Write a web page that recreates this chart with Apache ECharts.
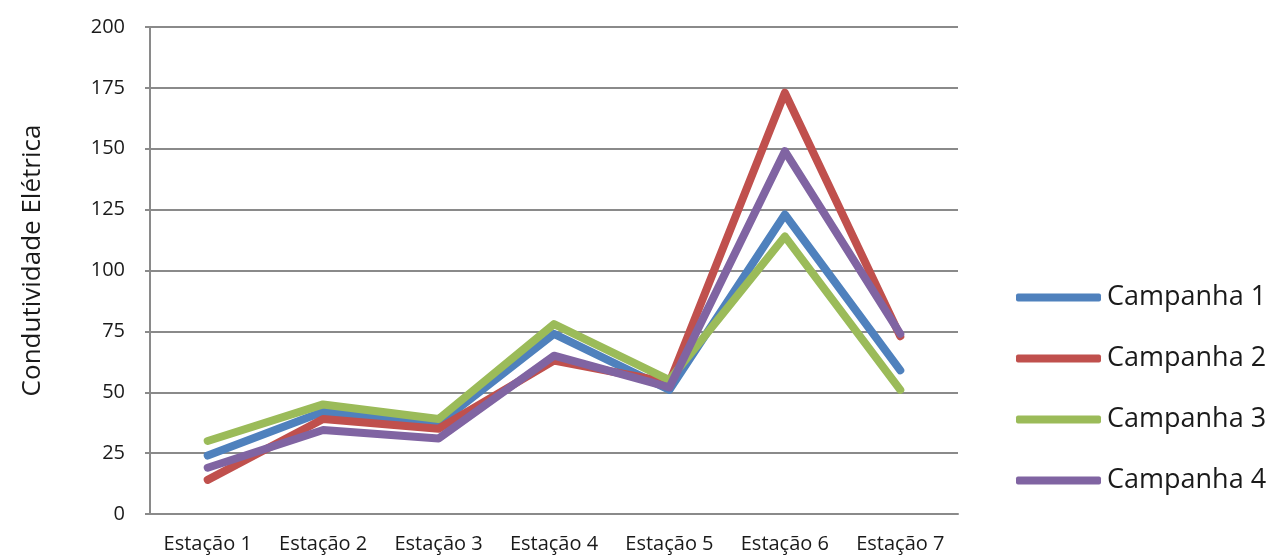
<!DOCTYPE html>
<html>
<head>
<meta charset="utf-8">
<script src="https://cdn.jsdelivr.net/npm/echarts@6/dist/echarts.min.js"></script>
<style>
  html, body { margin: 0; padding: 0; background: #fff; }
  #chart { width: 1276px; height: 557px; }
</style>
</head>
<body>
<div id="chart"></div>
<script>
// Electrical conductivity per sampling station, four campaigns
const stations = ['Estação 1', 'Estação 2', 'Estação 3', 'Estação 4', 'Estação 5', 'Estação 6', 'Estação 7'];
const campanha1 = [24, 42, 37, 74, 51, 123, 59];
const campanha2 = [14, 39, 35, 63, 54, 173, 73];
const campanha3 = [30, 45, 39, 78, 55, 114, 51];
const campanha4 = [19, 34.5, 31, 65, 52, 149, 74];
const seriesNames = ['Campanha 1', 'Campanha 2', 'Campanha 3', 'Campanha 4'];
const colors = ['#4F81BD', '#C0504D', '#9BBB59', '#8064A2'];

const font = '"Open Sans", "Noto Sans", sans-serif';
const chart = echarts.init(document.getElementById('chart'));

const allSeries = [campanha1, campanha2, campanha3, campanha4].map((vals, i) => ({
  name: seriesNames[i],
  type: 'line',
  data: vals,
  symbol: 'none',
  lineStyle: { width: 8, color: colors[i], cap: 'round', join: 'round' },
  itemStyle: { color: colors[i] },
  emphasis: { disabled: true }
}));

chart.setOption({
  animation: false,
  color: colors,
  grid: { left: 150, right: 318, top: 27, bottom: 43, containLabel: false },
  legend: {
    orient: 'vertical',
    left: 1011,
    top: 279,
    itemWidth: 85,
    itemHeight: 8,
    itemGap: 34,
    icon: 'roundRect',
    textStyle: { fontFamily: font, fontSize: 27, color: '#1a1a1a', padding: [0, 0, 0, 1] },
    data: seriesNames
  },
  xAxis: {
    type: 'category',
    data: stations,
    boundaryGap: true,
    axisLine: { lineStyle: { color: '#8a8a8a', width: 2 } },
    axisTick: { show: false },
    axisLabel: { fontFamily: font, fontSize: 20, color: '#1a1a1a', margin: 20, interval: 0 }
  },
  yAxis: {
    type: 'value',
    min: 0,
    max: 200,
    interval: 25,
    name: 'Condutividade Elétrica',
    nameLocation: 'middle',
    nameGap: 104,
    nameRotate: 90,
    nameTextStyle: { fontFamily: font, fontSize: 26, color: '#1a1a1a', padding: [0, 0, 0, 20] },
    axisLine: { show: true, lineStyle: { color: '#8a8a8a', width: 2 } },
    axisTick: { show: true, length: 5, inside: false, lineStyle: { color: '#8a8a8a', width: 2 } },
    axisLabel: { fontFamily: font, fontSize: 20, color: '#1a1a1a', margin: 25 },
    splitLine: { lineStyle: { color: '#8a8a8a', width: 2 } }
  },
  series: allSeries
});
</script>
</body>
</html>
